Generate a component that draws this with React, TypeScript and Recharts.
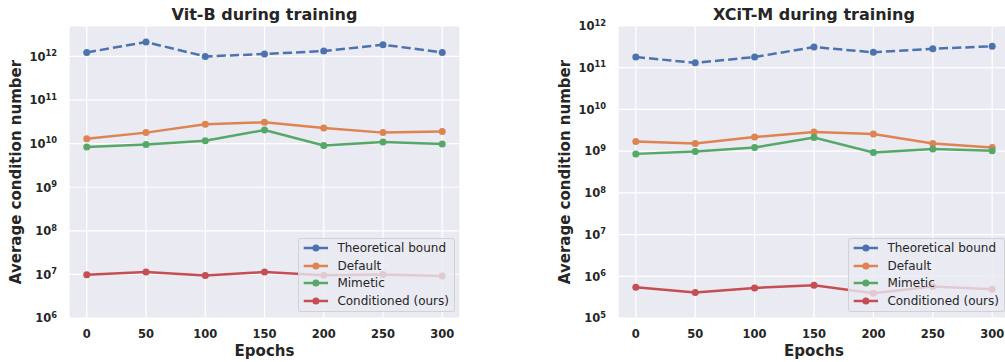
import { LineChart, Line, XAxis, YAxis, CartesianGrid, Legend } from 'recharts'

const epochs = [0, 50, 100, 150, 200, 250, 300]

const vitBound = [1.24e12, 2.14e12, 1.0e12, 1.14e12, 1.33e12, 1.86e12, 1.24e12]
const vitDefault = [1.3e10, 1.79e10, 2.78e10, 3.09e10, 2.29e10, 1.79e10, 1.89e10]
const vitMimetic = [8.4e9, 9.6e9, 1.17e10, 2.05e10, 9.1e9, 1.09e10, 9.8e9]
const vitConditioned = [9.8e6, 1.13e7, 9.5e6, 1.13e7, 9.6e6, 1.0e7, 9.2e6]

const xcitBound = [1.8e11, 1.31e11, 1.8e11, 3.13e11, 2.34e11, 2.85e11, 3.26e11]
const xcitDefault = [1.7e9, 1.52e9, 2.17e9, 2.86e9, 2.56e9, 1.52e9, 1.22e9]
const xcitMimetic = [8.6e8, 9.8e8, 1.22e9, 2.12e9, 9.25e8, 1.12e9, 1.02e9]
const xcitConditioned = [5.45e5, 4.06e5, 5.27e5, 6.08e5, 3.9e5, 5.66e5, 4.87e5]

const vitTicks = [1e6, 1e7, 1e8, 1e9, 1e10, 1e11, 1e12]
const xcitTicks = [1e5, 1e6, 1e7, 1e8, 1e9, 1e10, 1e11, 1e12]

const seriesNames = ['Theoretical bound', 'Default', 'Mimetic', 'Conditioned (ours)']

const BLUE = '#4C72B0'
const ORANGE = '#DD8452'
const GREEN = '#55A868'
const RED = '#C44E52'
const TEXT = '#262626'
const FONT = '"DejaVu Sans", sans-serif'

const vitData = epochs.map((e, i) => ({
    epoch: e, bound: vitBound[i], def: vitDefault[i], mimetic: vitMimetic[i], cond: vitConditioned[i],
}))
const xcitData = epochs.map((e, i) => ({
    epoch: e, bound: xcitBound[i], def: xcitDefault[i], mimetic: xcitMimetic[i], cond: xcitConditioned[i],
}))

const YTick = (props: any) => {
    const { x, y, payload } = props
    const exp = Math.round(Math.log10(payload.value))
    return (
        <text x={x - 12} y={y + 4.3} textAnchor="end" fontFamily={FONT} fontWeight="bold" fontSize={11.5} fill={TEXT}>
            10<tspan dy={-4.6} fontSize={8.3}>{exp}</tspan>
        </text>
    )
}

const XTick = (props: any) => {
    const { x, y, payload } = props
    return (
        <text x={x} y={y + 19.6} textAnchor="middle" fontFamily={FONT} fontWeight="bold" fontSize={11.5} fill={TEXT}>
            {payload.value}
        </text>
    )
}

const XLabel = (props: any) => {
    const vb = props.viewBox
    return (
        <text x={vb.x + vb.width / 2} y={355.8} textAnchor="middle" fontFamily={FONT} fontWeight="bold" fontSize={15} fill={TEXT}>
            Epochs
        </text>
    )
}

const YLabel = (props: any) => {
    const vb = props.viewBox
    const x = vb.x + vb.width - 48
    const cy = vb.y + vb.height / 2
    return (
        <text x={x} y={cy} transform={`rotate(-90 ${x} ${cy})`} textAnchor="middle" fontFamily={FONT} fontWeight="bold" fontSize={15} fill={TEXT}>
            Average condition number
        </text>
    )
}

const renderLegend = (props: any) => {
    const items = [...(props.payload || [])].sort(
        (a: any, b: any) => seriesNames.indexOf(a.value) - seriesNames.indexOf(b.value)
    )
    return (
        <div style={{
            width: 157, height: 74, boxSizing: 'border-box', position: 'relative',
            background: 'rgba(234,234,242,0.8)', border: '1px solid rgba(204,204,204,0.8)', borderRadius: 3,
            fontFamily: FONT, fontSize: 12, color: TEXT,
        }}>
            {items.map((entry: any, i: number) => (
                <div key={entry.value} style={{ position: 'absolute', left: 0, top: i * 17.7, height: 18, display: 'flex', alignItems: 'center', whiteSpace: 'nowrap' }}>
                    <svg width={38.4} height={18} style={{ display: 'block' }}>
                        <line x1={4.7} x2={29} y1={9} y2={9} stroke={entry.color} strokeWidth={2.5} />
                        <circle cx={16.9} cy={9} r={3.5} fill={entry.color} />
                    </svg>
                    <span>{entry.value}</span>
                </div>
            ))}
        </div>
    )
}

function Panel({ data, ticks, domain, width, yWidth, marginRight, legendLeft }: any) {
    const dot = (c: string) => ({ r: 3.5, fill: c, stroke: c, strokeWidth: 0 })
    return (
        <LineChart width={width} height={362} data={data} margin={{ top: 26, right: marginRight, bottom: 0, left: 0 }}>
            <CartesianGrid fill="#EAEAF2" stroke="#FFFFFF" strokeWidth={1.2} />
            <XAxis dataKey="epoch" type="number" domain={[-15, 315]} ticks={epochs} interval={0}
                axisLine={false} tickLine={false} tickSize={0} tickMargin={0} height={44}
                tick={<XTick />} label={(p: any) => <XLabel {...p} />} />
            <YAxis type="number" scale="log" domain={domain} ticks={ticks} interval={0} allowDataOverflow
                axisLine={false} tickLine={false} tickSize={0} tickMargin={0} width={yWidth}
                tick={<YTick />} label={(p: any) => <YLabel {...p} />} />
            <Line type="linear" dataKey="bound" name="Theoretical bound" stroke={BLUE} strokeWidth={2.5}
                strokeDasharray="9.25 4" dot={dot(BLUE)} activeDot={false} isAnimationActive={false} />
            <Line type="linear" dataKey="def" name="Default" stroke={ORANGE} strokeWidth={2.5}
                dot={dot(ORANGE)} activeDot={false} isAnimationActive={false} />
            <Line type="linear" dataKey="mimetic" name="Mimetic" stroke={GREEN} strokeWidth={2.5}
                dot={dot(GREEN)} activeDot={false} isAnimationActive={false} />
            <Line type="linear" dataKey="cond" name="Conditioned (ours)" stroke={RED} strokeWidth={2.5}
                dot={dot(RED)} activeDot={false} isAnimationActive={false} />
            <Legend layout="vertical" align="center" verticalAlign="middle" content={renderLegend}
                wrapperStyle={{ left: legendLeft, top: 238, width: 157, height: 74 }} />
        </LineChart>
    )
}

const titleStyle = {
    position: 'absolute' as const, top: 5, lineHeight: '19px', transform: 'translateX(-50%)',
    whiteSpace: 'nowrap' as const, fontFamily: FONT, fontWeight: 'bold' as const, fontSize: 16, color: TEXT,
}

export default function App() {
    return (
        <div style={{ position: 'fixed', left: 0, top: 0, width: 1005, height: 362, overflow: 'hidden', background: '#fff' }}>
            <div style={{ position: 'absolute', left: 0, top: 0 }}>
                <Panel data={vitData} ticks={vitTicks} domain={[1e6, 5e12]} width={500} yWidth={69} marginRight={40} legendLeft={298} />
            </div>
            <div style={{ position: 'absolute', left: 500, top: 0 }}>
                <Panel data={xcitData} ticks={xcitTicks} domain={[1e5, 1e12]} width={520} yWidth={118} marginRight={10} legendLeft={348} />
            </div>
            <div style={{ ...titleStyle, left: 264.5 }}>Vit-B during training</div>
            <div style={{ ...titleStyle, left: 814 }}>XCiT-M during training</div>
        </div>
    )
}
